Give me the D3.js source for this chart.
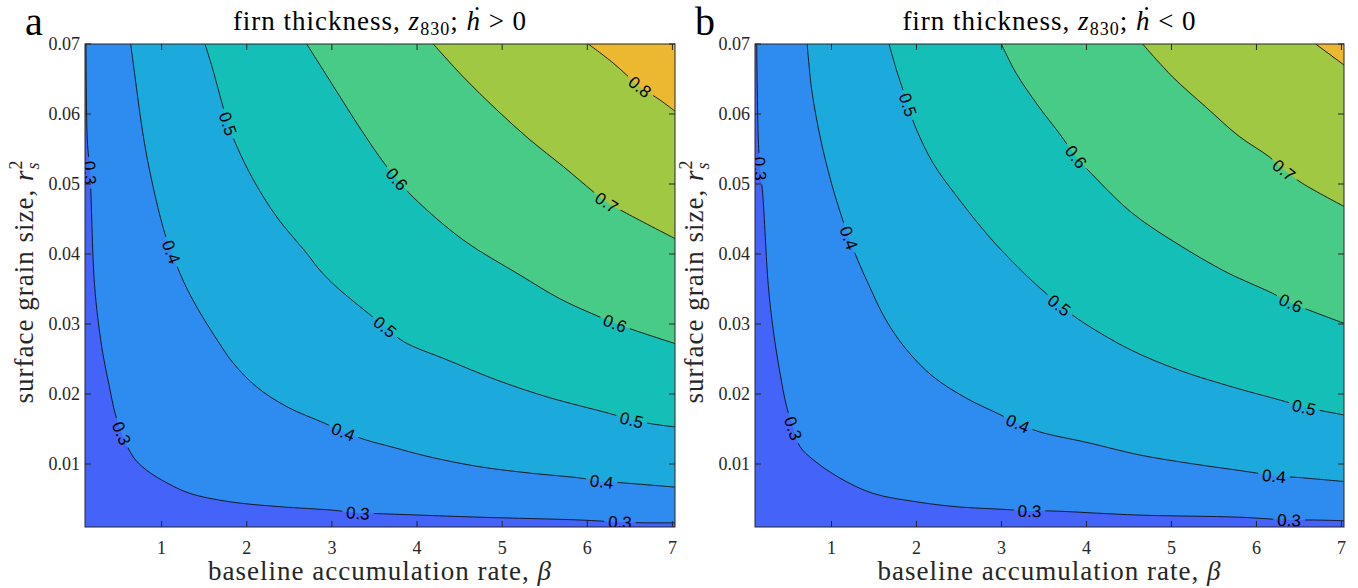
<!DOCTYPE html>
<html>
<head>
<meta charset="utf-8">
<script src="https://cdn.jsdelivr.net/npm/d3@7"></script>
<style>
  html, body { margin: 0; padding: 0; background: #fff; }
  svg { display: block; }
  .serif { font-family: "Liberation Serif", "DejaVu Serif", serif; }
</style>
</head>
<body>
<svg id="chart" width="1358" height="588"></svg>
<script>
// ---- contour levels, band colours and ticks ----
const levels = [0.3, 0.4, 0.5, 0.6, 0.7, 0.8];
const bandColors = ["#4363f9", "#2e8bef", "#1caadc", "#14bfb8", "#48cb86", "#a0c842", "#ecb830"];
const xTicks = [1, 2, 3, 4, 5, 6, 7];
const yTicks = [0.01, 0.02, 0.03, 0.04, 0.05, 0.06, 0.07];
const xDomain = [0.1, 7.03];
const yDomain = [0.001, 0.07];

// ---- panel a (ḣ > 0): iso-lines of z830 as [beta, r_s^2] ----
const a30 = [[0.112,0.0700],[0.127,0.0563],[0.159,0.0516],[0.212,0.0356],[0.296,0.0268],[0.394,0.0206],[0.452,0.0173],[0.531,0.0144],[0.667,0.0110],[0.825,0.0091],[1.078,0.0072],[1.333,0.0058],[1.803,0.0046],[2.390,0.0039],[3.013,0.0034],[3.306,0.0030],[3.565,0.0029],[4.739,0.0024],[5.914,0.0020],[6.384,0.0017],[6.654,0.0016],[7.03,0.0016]];
const a40 = [[0.637,0.0700],[0.681,0.0659],[0.792,0.0563],[0.909,0.0491],[1.036,0.0430],[1.115,0.0403],[1.213,0.0373],[1.304,0.0349],[1.433,0.0320],[1.627,0.0282],[1.842,0.0244],[2.117,0.0210],[2.469,0.0182],[2.919,0.0158],[3.134,0.0146],[3.409,0.0134],[3.683,0.0125],[4.152,0.0110],[4.739,0.0096],[5.327,0.0087],[5.914,0.0080],[6.169,0.0075],[6.423,0.0073],[7.03,0.0067]];
const a50 = [[1.509,0.0700],[1.603,0.0663],[1.692,0.0623],[1.780,0.0586],[1.886,0.0553],[2.077,0.0506],[2.352,0.0453],[2.704,0.0401],[2.837,0.0380],[2.966,0.0363],[3.119,0.0346],[3.409,0.0317],[3.624,0.0296],[3.839,0.0275],[4.348,0.0249],[4.936,0.0220],[5.523,0.0196],[6.266,0.0172],[6.521,0.0163],[6.775,0.0157],[7.03,0.0153]];
const a60 = [[2.704,0.0700],[3.016,0.0640],[3.330,0.0580],[3.588,0.0534],[3.764,0.0507],[3.956,0.0481],[4.543,0.0420],[5.209,0.0370],[5.679,0.0336],[6.070,0.0314],[6.325,0.0301],[6.580,0.0290],[7.03,0.0272]];
const a70 = [[4.191,0.0700],[4.543,0.0653],[4.936,0.0606],[5.327,0.0563],[5.718,0.0525],[6.070,0.0489],[6.228,0.0474],[6.463,0.0458],[7.03,0.0422]];
const a80 = [[6.012,0.0700],[6.302,0.0673],[6.619,0.0639],[6.854,0.0620],[7.03,0.0604]];

const aLab30 = [[0.159,0.0516],[0.531,0.0144],[3.306,0.0030],[6.384,0.0017]];
const aLab40 = [[1.115,0.0403],[3.134,0.0146],[6.169,0.0075]];
const aLab50 = [[1.780,0.0586],[3.624,0.0296],[6.521,0.0163]];
const aLab60 = [[3.764,0.0507],[6.325,0.0301]];
const aLab70 = [[6.228,0.0474]];
const aLab80 = [[6.619,0.0639]];

// ---- panel b (ḣ < 0) ----
const b30 = [[0.120,0.0700],[0.139,0.0563],[0.159,0.0522],[0.190,0.0487],[0.256,0.0356],[0.315,0.0291],[0.394,0.0230],[0.472,0.0182],[0.550,0.0151],[0.629,0.0125],[0.785,0.0106],[1.098,0.0080],[1.489,0.0058],[1.999,0.0046],[2.469,0.0039],[3.056,0.0035],[3.330,0.0033],[3.565,0.0033],[4.622,0.0027],[5.797,0.0024],[6.384,0.0020],[6.657,0.0020],[7.03,0.0019]];
const b40 = [[0.714,0.0700],[0.768,0.0634],[0.874,0.0563],[1.000,0.0501],[1.120,0.0453],[1.206,0.0423],[1.310,0.0391],[1.427,0.0359],[1.639,0.0306],[1.885,0.0263],[2.194,0.0225],[2.587,0.0194],[2.958,0.0172],[3.193,0.0158],[3.447,0.0146],[4.035,0.0130],[4.622,0.0113],[5.209,0.0101],[5.953,0.0088],[6.207,0.0083],[6.462,0.0081],[7.03,0.0075]];
const b50 = [[1.677,0.0700],[1.764,0.0663],[1.823,0.0641],[1.901,0.0613],[1.979,0.0584],[2.194,0.0530],[2.508,0.0477],[2.860,0.0424],[3.130,0.0389],[3.365,0.0361],[3.541,0.0342],[3.682,0.0327],[3.952,0.0303],[4.504,0.0264],[5.091,0.0234],[5.718,0.0210],[6.345,0.0189],[6.560,0.0181],[6.815,0.0175],[7.03,0.0170]];
const b60 = [[2.998,0.0700],[3.174,0.0658],[3.424,0.0613],[3.682,0.0572],[3.878,0.0539],[4.073,0.0513],[4.543,0.0458],[5.130,0.0410],[5.679,0.0372],[5.914,0.0359],[6.188,0.0344],[6.404,0.0330],[6.657,0.0318],[7.03,0.0301]];
const b70 = [[4.661,0.0700],[5.013,0.0653],[5.405,0.0610],[5.797,0.0568],[6.149,0.0539],[6.325,0.0520],[6.540,0.0501],[7.03,0.0468]];
const b80 = [[6.697,0.0700],[7.03,0.0670]];

const bLab30 = [[0.159,0.0522],[0.550,0.0151],[3.330,0.0033],[6.384,0.0020]];
const bLab40 = [[1.206,0.0423],[3.193,0.0158],[6.207,0.0083]];
const bLab50 = [[1.901,0.0613],[3.682,0.0327],[6.560,0.0181]];
const bLab60 = [[3.878,0.0539],[6.404,0.0330]];
const bLab70 = [[6.325,0.0520]];
const bLab80 = [];

const panels = [
  { id: "a", letter: "a", rel: ">", left: 85, right: 675, top: 44, bottom: 527,
    lines: [a30, a40, a50, a60, a70, a80],
    labels: [aLab30, aLab40, aLab50, aLab60, aLab70, aLab80] },
  { id: "b", letter: "b", rel: "<", left: 755, right: 1344, top: 44, bottom: 527,
    lines: [b30, b40, b50, b60, b70, b80],
    labels: [bLab30, bLab40, bLab50, bLab60, bLab70, bLab80] }
];

const svg = d3.select("#chart");
const defs = svg.append("defs");
const axisColor = "#262626";
const labelFont = 17;

panels.forEach(p => {
  const x = d3.scaleLinear().domain(xDomain).range([p.left, p.right]);
  const y = d3.scaleLinear().domain(yDomain).range([p.bottom, p.top]);
  const g = svg.append("g");

  defs.append("clipPath").attr("id", "clip-" + p.id)
    .append("rect").attr("x", p.left).attr("y", p.top)
    .attr("width", p.right - p.left).attr("height", p.bottom - p.top);

  const plot = g.append("g").attr("clip-path", `url(#clip-${p.id})`);

  // filled bands: base colour, then each level's region toward the top-right corner
  plot.append("rect").attr("x", p.left).attr("y", p.top)
    .attr("width", p.right - p.left).attr("height", p.bottom - p.top)
    .attr("fill", bandColors[0]);

  const line = d3.line().x(d => x(d[0])).y(d => y(d[1])).curve(d3.curveCatmullRom.alpha(0.5));
  p.lines.forEach((pts, i) => {
    const corner = `L${x(xDomain[1]) + 2},${y(pts[pts.length - 1][1])}L${x(xDomain[1]) + 2},${y(yDomain[1]) - 2}L${x(pts[0][0])},${y(yDomain[1]) - 2}Z`;
    plot.append("path").attr("d", line(pts) + corner).attr("fill", bandColors[i + 1]);
  });

  // contour labels, placed along their line
  const labelG = plot.append("g");
  const gaps = [];
  p.labels.forEach((labs, i) => {
    const pts = p.lines[i].map(d => [x(d[0]), y(d[1])]);
    labs.forEach(L => {
      const px = x(L[0]), py = y(L[1]);
      let best = 0, bd = Infinity;
      pts.forEach((q, k) => { const dd = (q[0]-px)**2 + (q[1]-py)**2; if (dd < bd) { bd = dd; best = k; } });
      const p0 = pts[Math.max(0, best - 1)], p1 = pts[Math.min(pts.length - 1, best + 1)];
      let ang = Math.atan2(p1[1] - p0[1], p1[0] - p0[0]) * 180 / Math.PI;
      if (ang > 90) ang -= 180;
      if (ang <= -90) ang += 180;
      const t = labelG.append("text")
        .attr("transform", `translate(${px},${py}) rotate(${ang})`)
        .attr("text-anchor", "middle").attr("dy", "0.36em")
        .attr("font-family", "'Liberation Sans', Arial, Helvetica, sans-serif")
        .attr("font-size", labelFont).attr("fill", "#000")
        .text(levels[i].toFixed(1));
      gaps.push({ px, py, ang, w: t.node().getComputedTextLength() + 8 });
    });
  });

  // gaps in the lines under the labels
  const mask = defs.append("mask").attr("id", "gap-" + p.id).attr("maskUnits", "userSpaceOnUse")
    .attr("x", 0).attr("y", 0).attr("width", 1358).attr("height", 588);
  mask.append("rect").attr("x", 0).attr("y", 0).attr("width", 1358).attr("height", 588).attr("fill", "#fff");
  gaps.forEach(gp => {
    mask.append("rect").attr("x", -gp.w / 2).attr("y", -labelFont * 0.5)
      .attr("width", gp.w).attr("height", labelFont)
      .attr("transform", `translate(${gp.px},${gp.py}) rotate(${gp.ang})`)
      .attr("fill", "#000");
  });

  const lineG = plot.insert("g", () => labelG.node()).attr("mask", `url(#gap-${p.id})`);
  p.lines.forEach(pts => {
    lineG.append("path").attr("d", line(pts)).attr("fill", "none")
      .attr("stroke", "#111").attr("stroke-width", 0.9);
  });

  // frame and inward ticks on all four sides
  const tl = 6;
  const ax = g.append("g").attr("stroke", axisColor).attr("stroke-width", 1).attr("fill", "none");
  ax.append("rect").attr("x", p.left).attr("y", p.top)
    .attr("width", p.right - p.left).attr("height", p.bottom - p.top);
  xTicks.forEach(v => {
    const X = x(v);
    ax.append("line").attr("x1", X).attr("x2", X).attr("y1", p.bottom).attr("y2", p.bottom - tl);
    ax.append("line").attr("x1", X).attr("x2", X).attr("y1", p.top).attr("y2", p.top + tl);
  });
  yTicks.forEach(v => {
    const Y = y(v);
    ax.append("line").attr("x1", p.left).attr("x2", p.left + tl).attr("y1", Y).attr("y2", Y);
    ax.append("line").attr("x1", p.right).attr("x2", p.right - tl).attr("y1", Y).attr("y2", Y);
  });

  const tickFont = 18;
  g.selectAll(".xt").data(xTicks).join("text").attr("class", "serif")
    .attr("x", d => x(d)).attr("y", p.bottom + 27).attr("text-anchor", "middle")
    .attr("font-size", tickFont).attr("fill", axisColor).text(d => d);
  g.selectAll(".yt").data(yTicks).join("text").attr("class", "serif")
    .attr("x", p.left - 5).attr("y", d => y(d) + 6).attr("text-anchor", "end")
    .attr("font-size", tickFont).attr("fill", axisColor).text(d => d.toFixed(2));

  // titles and axis labels
  const cx = (p.left + p.right) / 2;
  const title = g.append("text").attr("class", "serif").attr("x", cx).attr("y", 30)
    .attr("text-anchor", "middle").attr("font-size", 27).attr("letter-spacing", 1).attr("fill", "#000");
  title.append("tspan").text("firn thickness, ");
  title.append("tspan").attr("font-style", "italic").text("z");
  title.append("tspan").attr("font-size", 18).attr("dy", 5).text("830");
  title.append("tspan").attr("dy", -5).text("; ");
  title.append("tspan").attr("font-style", "italic").text("\u1E23");
  title.append("tspan").text(` ${p.rel} 0`);

  g.append("text").attr("class", "serif").attr("x", p.left - 60).attr("y", 35)
    .attr("font-size", 40).attr("fill", "#000").text(p.letter);

  const xl = g.append("text").attr("class", "serif").attr("x", cx).attr("y", 580)
    .attr("text-anchor", "middle").attr("font-size", 27).attr("letter-spacing", 1).attr("fill", axisColor);
  xl.append("tspan").text("baseline accumulation rate, ");
  xl.append("tspan").attr("font-style", "italic").text("\u03B2");

  const cy = (p.top + p.bottom) / 2 - 4;
  const yl = g.append("text").attr("class", "serif")
    .attr("transform", `translate(${p.left - 52},${cy}) rotate(-90)`)
    .attr("text-anchor", "middle").attr("font-size", 27).attr("letter-spacing", 1).attr("fill", axisColor);
  yl.append("tspan").text("surface grain size, ");
  yl.append("tspan").attr("font-style", "italic").text("r");
  yl.append("tspan").attr("font-size", 18).attr("dy", -11).text("2");
  yl.append("tspan").attr("font-size", 18).attr("font-style", "italic").attr("dx", -10).attr("dy", 17).text("s");
});
</script>
</body>
</html>
